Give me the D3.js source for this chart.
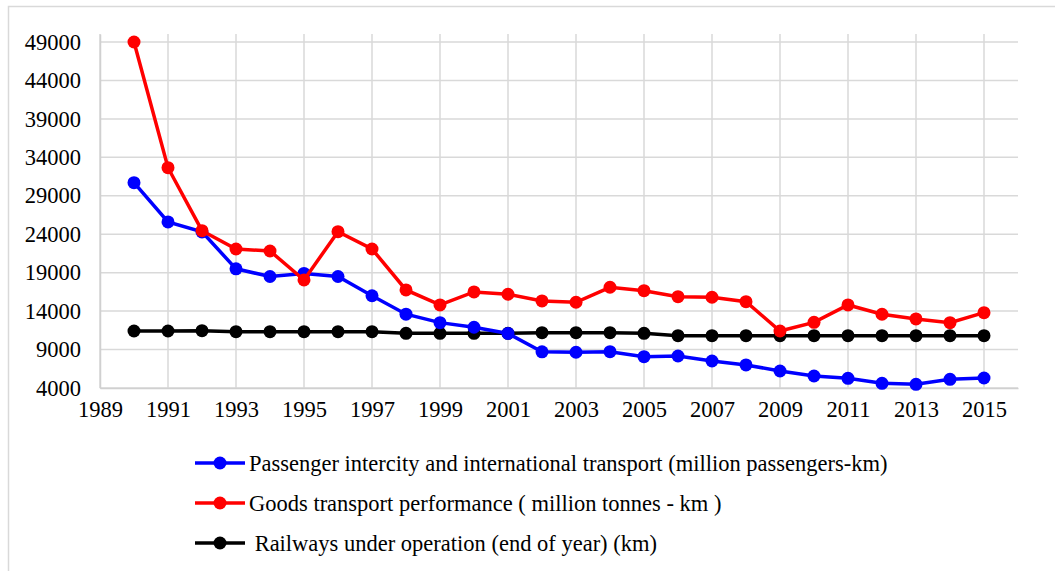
<!DOCTYPE html>
<html>
<head>
<meta charset="utf-8">
<script src="https://cdn.jsdelivr.net/npm/d3@7"></script>
<style>
  body { margin: 0; background: #fff; }
  svg text { font-family: "Liberation Serif", "Times New Roman", serif; }
</style>
</head>
<body>
<div id="chart"></div>
<script>
// chart data
var years = d3.range(1990, 2016);
var passenger = [30700, 25600, 24300, 19500, 18500, 18900, 18500, 16000, 13600, 12500,
  11900, 11100, 8700, 8650, 8720, 8070, 8160, 7510, 7000, 6210,
  5560, 5260, 4610, 4480, 5130, 5300];
var goods = [49000, 32650, 24460, 22080, 21820, 18050, 24330, 22080, 16750, 14800,
  16490, 16190, 15320, 15150, 17100, 16660, 15880, 15800, 15230, 11410,
  12540, 14800, 13590, 12980, 12500, 13800];
var railways = [11410, 11410, 11450, 11320, 11320, 11320, 11320, 11320, 11110, 11110,
  11110, 11110, 11190, 11190, 11190, 11110, 10800, 10800, 10800, 10800,
  10800, 10800, 10800, 10800, 10800, 10800];
var yTicks = [4000, 9000, 14000, 19000, 24000, 29000, 34000, 39000, 44000, 49000];
var xTicks = d3.range(1989, 2016, 2);
var seriesNames = ["Passenger intercity and international transport (million passengers-km)",
  "Goods transport performance ( million tonnes - km )",
  " Railways under operation (end of year) (km)"];
var seriesColors = ["#0000ff", "#ff0000", "#000000"];

var width = 1055, height = 571;
var svg = d3.select("#chart").append("svg")
  .attr("width", width).attr("height", height);

// chart area border (cropped at right/bottom)
svg.append("rect").attr("x", 8.5).attr("y", 6.5).attr("width", 1200).attr("height", 800)
  .attr("fill", "#fff").attr("stroke", "#d9d9d9").attr("stroke-width", 1.5);

var x = d3.scaleLinear().domain([1989, 2016]).range([100, 1018]);
var y = d3.scaleLinear().domain([4000, 50040]).range([388, 34]);

var grid = svg.append("g");
grid.selectAll(".hg").data(yTicks).enter().append("line")
  .attr("x1", x(1989)).attr("x2", x(2016))
  .attr("y1", function (d) { return y(d); }).attr("y2", function (d) { return y(d); })
  .attr("stroke", "#d9d9d9").attr("stroke-width", 1.5);
grid.selectAll(".vg").data(xTicks).enter().append("line")
  .attr("x1", function (d) { return x(d); }).attr("x2", function (d) { return x(d); })
  .attr("y1", y(4000)).attr("y2", y(50040))
  .attr("stroke", "#d9d9d9").attr("stroke-width", 1.5);

// axes
var yAxis = svg.append("g").attr("transform", "translate(" + x(1989) + ",0)")
  .call(d3.axisLeft(y).tickValues(yTicks).tickSize(0).tickPadding(19).tickFormat(d3.format("d")));
var xAxis = svg.append("g").attr("transform", "translate(0," + y(4000) + ")")
  .call(d3.axisBottom(x).tickValues(xTicks).tickSize(0).tickPadding(13).tickFormat(d3.format("d")));
[yAxis, xAxis].forEach(function (a) {
  a.attr("font-family", null).attr("font-size", null);
  a.select(".domain").attr("stroke", "#d0d0d0").attr("stroke-width", 1.5);
  a.selectAll("text").attr("fill", "#000").attr("font-size", "22.5px");
});

var allSeries = [passenger, goods, railways];
var line = d3.line().x(function (d, i) { return x(years[i]); }).y(function (d) { return y(d); });

// draw railways first, then passenger, then goods on top
[2, 0, 1].forEach(function (k) {
  var g = svg.append("g");
  g.append("path").datum(allSeries[k]).attr("d", line)
    .attr("fill", "none").attr("stroke", seriesColors[k]).attr("stroke-width", 3.5);
  g.selectAll("circle").data(allSeries[k]).enter().append("circle")
    .attr("cx", function (d, i) { return x(years[i]); })
    .attr("cy", function (d) { return y(d); })
    .attr("r", 6.5).attr("fill", seriesColors[k]);
});

// legend
var legend = svg.append("g");
seriesNames.forEach(function (name, i) {
  var ly = 463 + i * 40;
  legend.append("line").attr("x1", 195).attr("x2", 245).attr("y1", ly).attr("y2", ly)
    .attr("stroke", seriesColors[i]).attr("stroke-width", 3.5);
  legend.append("circle").attr("cx", 220).attr("cy", ly).attr("r", 6.5).attr("fill", seriesColors[i]);
  legend.append("text").attr("x", 249).attr("y", ly + 7.5)
    .style("white-space", "pre")
    .attr("font-size", "22.5px").attr("fill", "#000").text(name);
});
</script>
</body>
</html>
